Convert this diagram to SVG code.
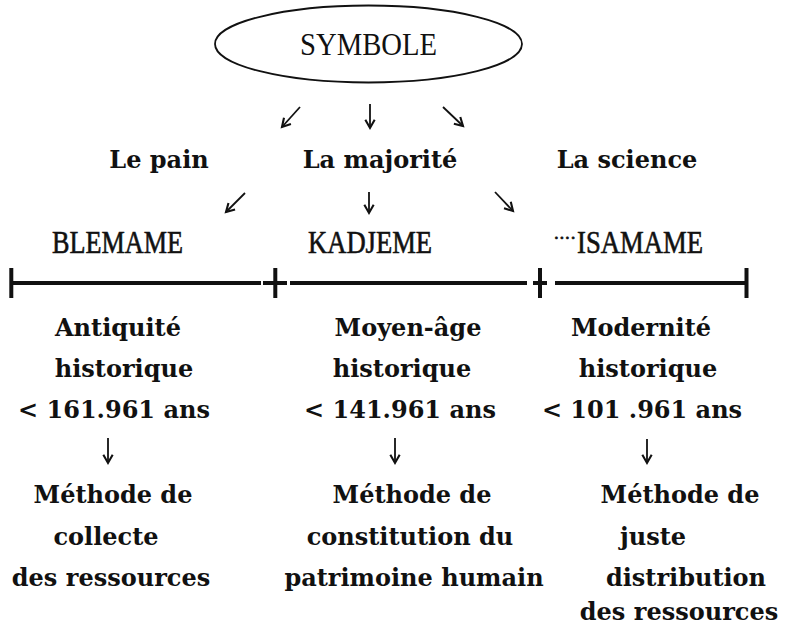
<svg xmlns="http://www.w3.org/2000/svg" width="789" height="630" viewBox="0 0 789 630">
<style>
.t{font-family:"DejaVu Serif","Liberation Serif",serif;font-weight:bold;font-size:24px;fill:#111;text-anchor:middle}
.h{font-family:"Liberation Serif","DejaVu Serif",serif;font-size:31px;fill:#111;text-anchor:middle}
.hb{stroke:#111;stroke-width:0.6}
.a{stroke:#111;stroke-width:1.8;fill:none;marker-end:url(#ah)}
.bar{stroke:#111;stroke-width:4;fill:none}
</style>
<defs>
<marker id="ah" markerUnits="userSpaceOnUse" markerWidth="14" markerHeight="14" viewBox="-8 -6 10 12" refX="0" refY="0" orient="auto">
<path d="M-7,-4 L0,0 L-7,4" stroke="#111" stroke-width="1.8" fill="none"/>
</marker>
</defs>
<rect width="789" height="630" fill="#fff"/>
<g id="symbole">
<ellipse cx="368.5" cy="44" rx="153.5" ry="38.5" fill="none" stroke="#111" stroke-width="1.8"/>
<text x="368.5" y="55" class="h" font-size="35" textLength="137" lengthAdjust="spacingAndGlyphs">SYMBOLE</text>
</g>
<g id="labels">
<text id="le-pain" x="159" y="168" class="t">Le pain</text>
<text id="la-majorite" x="380" y="168" class="t">La majorité</text>
<text id="la-science" x="627" y="168" class="t">La science</text>
</g>
<g id="periods">
<text id="blemame" x="117.5" y="253" class="h hb" textLength="131" lengthAdjust="spacingAndGlyphs">BLEMAME</text>
<text id="kadjeme" x="370" y="253" class="h hb" textLength="124" lengthAdjust="spacingAndGlyphs">KADJEME</text>
<text id="isamame" x="554" y="253" class="h hb" style="text-anchor:start"><tspan font-size="19" dy="-14" letter-spacing="0.8">....</tspan><tspan x="577" dy="14" textLength="126" lengthAdjust="spacingAndGlyphs">ISAMAME</tspan></text>
</g>
<g id="timeline">
<path class="bar" d="M11,283 H261 M263,283 H287 M290,283 H527 M533,283 H547 M555,283 H746.5"/>
<path class="bar" d="M11.3,268 V298 M275.3,268 V298 M540,268 V298 M746.5,268 V298"/>
</g>
<g id="col-antiquite">
<text x="118" y="336" class="t">Antiquité</text>
<text x="124" y="377" class="t">historique</text>
<text x="114" y="418" class="t">&lt; 161.961 ans</text>
<text x="113" y="503" class="t">Méthode de</text>
<text x="106" y="545" class="t">collecte</text>
<text x="111" y="586" class="t">des ressources</text>
</g>
<g id="col-moyen-age">
<text x="408" y="336" class="t">Moyen-âge</text>
<text x="402" y="377" class="t">historique</text>
<text x="400" y="418" class="t">&lt; 141.961 ans</text>
<text x="412" y="503" class="t">Méthode de</text>
<text x="410" y="545" class="t">constitution du</text>
<text x="414" y="586" class="t">patrimoine humain</text>
</g>
<g id="col-modernite">
<text x="641" y="336" class="t">Modernité</text>
<text x="648" y="377" class="t">historique</text>
<text x="642" y="418" class="t">&lt; 101 .961 ans</text>
<text x="680" y="503" class="t">Méthode de</text>
<text x="653" y="545" class="t">juste</text>
<text x="686" y="586" class="t">distribution</text>
<text x="679" y="620" class="t">des ressources</text>
</g>
<g id="connectors">
<line class="a" x1="300" y1="107" x2="282" y2="127"/>
<line class="a" x1="370" y1="104" x2="370" y2="128"/>
<line class="a" x1="443" y1="107" x2="463" y2="126"/>
<line class="a" x1="245" y1="193" x2="226" y2="212"/>
<line class="a" x1="369" y1="192" x2="369" y2="213"/>
<line class="a" x1="495" y1="192" x2="513" y2="211"/>
<line class="a" x1="108" y1="438" x2="108" y2="463"/>
<line class="a" x1="395" y1="438" x2="395" y2="463"/>
<line class="a" x1="647" y1="439" x2="647" y2="463"/>
</g>
</svg>
